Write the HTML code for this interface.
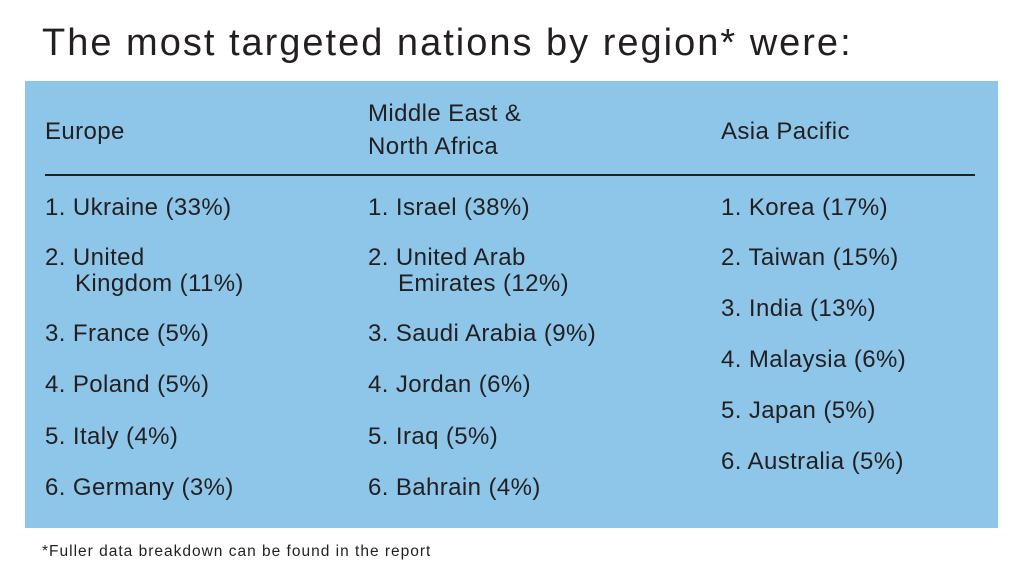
<!DOCTYPE html>
<html><head><meta charset="utf-8"><style>
body{margin:0;width:1024px;height:576px;background:#fff;position:relative;overflow:hidden;font-family:"Liberation Sans",sans-serif;color:#231f20}
.t{position:absolute;white-space:nowrap;line-height:26px;font-size:24px;letter-spacing:0.4px}
#title{position:absolute;left:42px;top:20px;font-size:38px;line-height:46px;white-space:nowrap;letter-spacing:2px}
#box{position:absolute;left:25px;top:81px;width:973px;height:447px;background:#8dc6e8}
#rule{position:absolute;left:45px;top:174px;width:930px;height:2px;background:#231f20}
#foot{position:absolute;left:42px;top:543px;font-size:15.5px;line-height:18px;white-space:nowrap;letter-spacing:1px}
</style></head><body>
<div id="title">The most targeted nations by region* were:</div>
<div id="box"></div>
<div id="rule"></div>
<div class="t" style="left:45px;top:119px">Europe</div>
<div class="t" style="left:368px;top:101px">Middle East &amp;</div>
<div class="t" style="left:368px;top:134px">North Africa</div>
<div class="t" style="left:721px;top:119px">Asia Pacific</div>

<div class="t" style="left:45px;top:195px">1. Ukraine (33%)</div>
<div class="t" style="left:45px;top:245px">2. United</div>
<div class="t" style="left:75px;top:271px">Kingdom (11%)</div>
<div class="t" style="left:45px;top:321px">3. France (5%)</div>
<div class="t" style="left:45px;top:372px">4. Poland (5%)</div>
<div class="t" style="left:45px;top:424px">5. Italy (4%)</div>
<div class="t" style="left:45px;top:475px">6. Germany (3%)</div>

<div class="t" style="left:368px;top:195px">1. Israel (38%)</div>
<div class="t" style="left:368px;top:245px">2. United Arab</div>
<div class="t" style="left:398px;top:271px">Emirates (12%)</div>
<div class="t" style="left:368px;top:321px">3. Saudi Arabia (9%)</div>
<div class="t" style="left:368px;top:372px">4. Jordan (6%)</div>
<div class="t" style="left:368px;top:424px">5. Iraq (5%)</div>
<div class="t" style="left:368px;top:475px">6. Bahrain (4%)</div>

<div class="t" style="left:721px;top:195px">1. Korea (17%)</div>
<div class="t" style="left:721px;top:245px">2. Taiwan (15%)</div>
<div class="t" style="left:721px;top:296px">3. India (13%)</div>
<div class="t" style="left:721px;top:347px">4. Malaysia (6%)</div>
<div class="t" style="left:721px;top:398px">5. Japan (5%)</div>
<div class="t" style="left:721px;top:449px">6. Australia (5%)</div>

<div id="foot">*Fuller data breakdown can be found in the report</div>
</body></html>
